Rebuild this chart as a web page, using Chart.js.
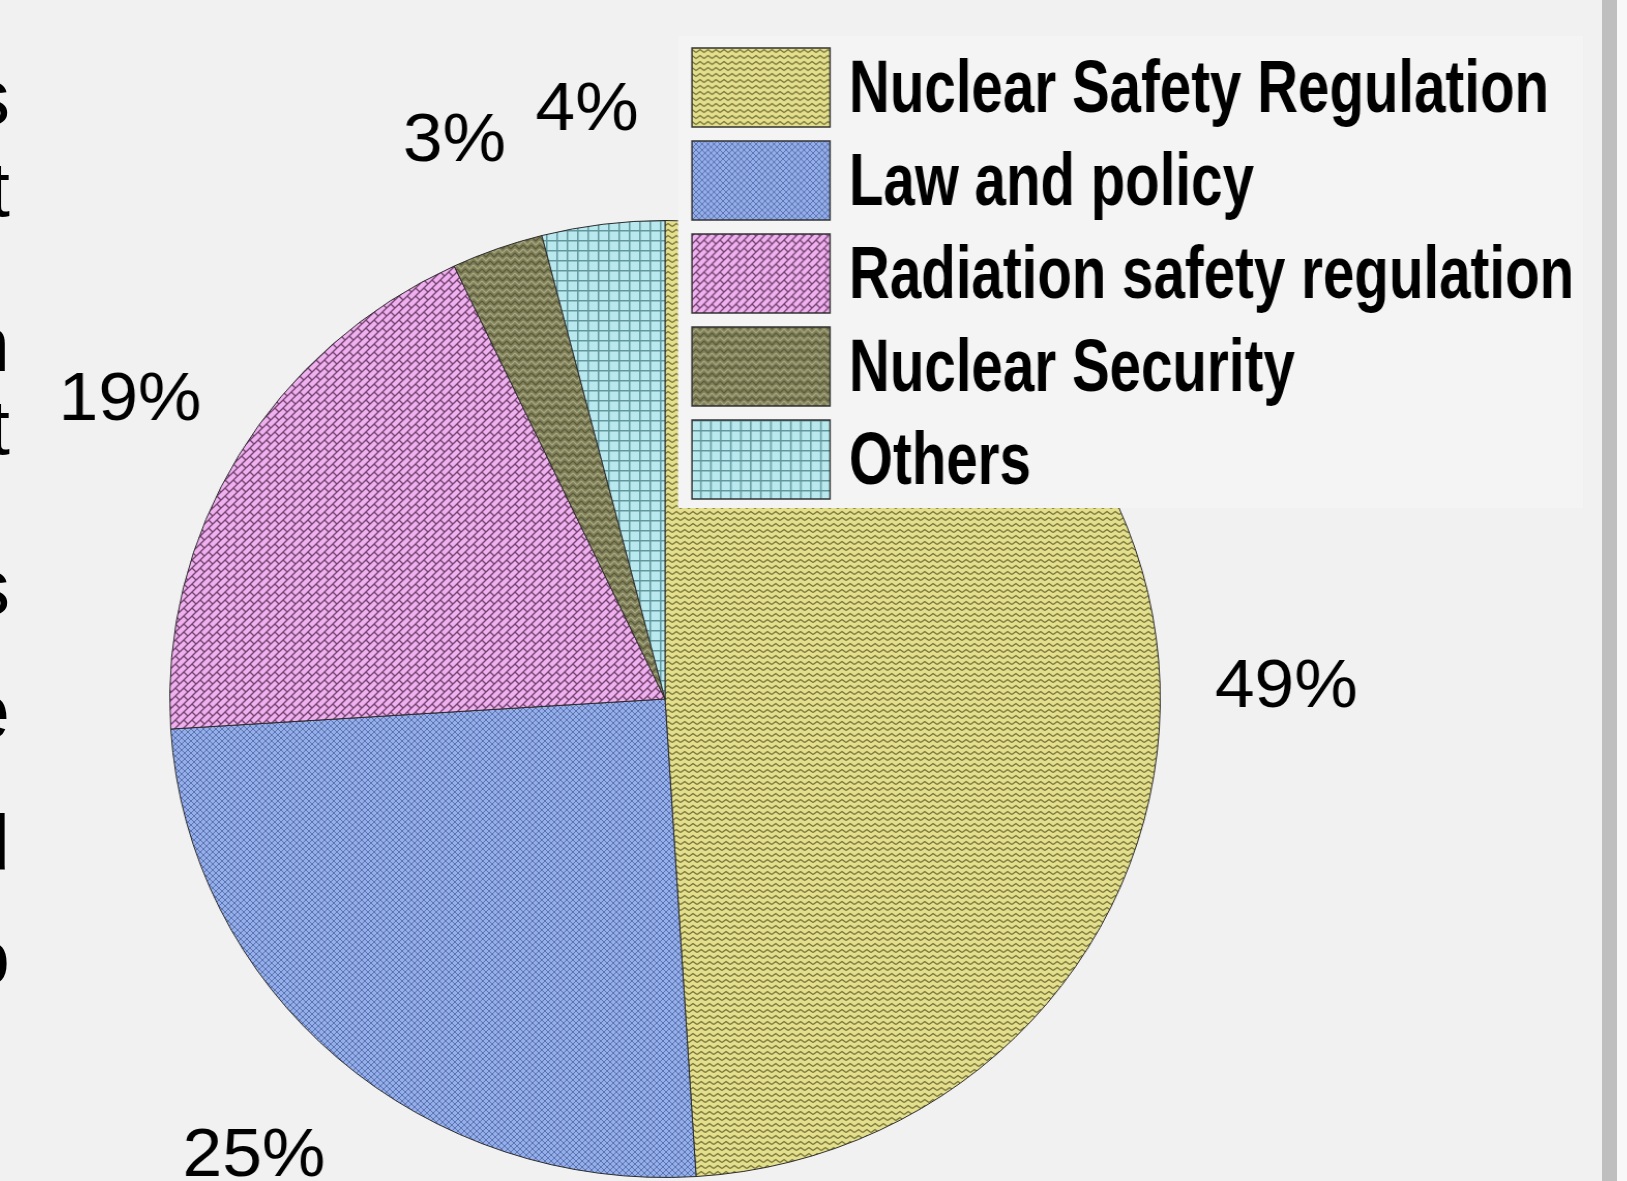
<!DOCTYPE html>
<html>
<head>
<meta charset="utf-8">
<script src="https://cdn.jsdelivr.net/npm/chart.js@4.4.0/dist/chart.umd.min.js"></script>
<style>
  html, body { margin: 0; padding: 0; width: 1627px; height: 1181px; overflow: hidden; background: #f1f1f1; }
  /* the source picture is a little wider than tall, so the pie is stretched */
  .wrap { position: absolute; left: 0; top: 0; width: 1627px; height: 1200px; transform: scaleX(1.035); transform-origin: 665px 0; }
  .edge { position: absolute; font-family: 'Liberation Sans', Arial, sans-serif; font-size: 78px; color: #000; line-height: 1; text-align: right; width: 120px; left: -110px; }
  .bar { position: absolute; left: 1602px; top: 0; width: 15px; height: 1181px; background: #bfbfbf; }
  .rim { position: absolute; left: 1617px; top: 0; width: 10px; height: 1181px; background: #f8f8f8; }
</style>
</head>
<body>
<div class="wrap"><canvas id="pie"></canvas></div>
<div id="edgeText"></div>
<div class="bar"></div>
<div class="rim"></div>
<script>
// Data
const categories = ['Nuclear Safety Regulation', 'Law and policy', 'Radiation safety regulation', 'Nuclear Security', 'Others'];
const shares = [49, 25, 19, 3, 4];
const labelText = ['49%', '25%', '19%', '3%', '4%'];

// cropped slide text on the left edge
const edgeChars = ['s', 't', 'n', 't', 's', 'e', 'd', 'o'];
const edgeTops = [58, 150, 305, 388, 548, 672, 804, 918];
const edgeBox = document.getElementById('edgeText');
edgeChars.forEach((ch, i) => {
    const d = document.createElement('div');
    d.className = 'edge';
    d.style.top = edgeTops[i] + 'px';
    d.textContent = ch;
    edgeBox.appendChild(d);
});

const STRETCH = 1.035;
const canvas = document.getElementById('pie');
const ctx = canvas.getContext('2d');

// hatch patterns, one per slice
function makePattern(w, h, bg, draw) {
    const t = document.createElement('canvas');
    t.width = w; t.height = h;
    const c = t.getContext('2d');
    c.fillStyle = bg;
    c.fillRect(0, 0, w, h);
    draw(c);
    return ctx.createPattern(t, 'repeat');
}
function seg(c, pts) {
    c.beginPath();
    c.moveTo(pts[0][0], pts[0][1]);
    for (let i = 1; i < pts.length; i++) c.lineTo(pts[i][0], pts[i][1]);
    c.stroke();
}

const patterns = [
    makePattern(8, 6, '#e3df8c', c => {
        c.strokeStyle = '#76733a'; c.lineWidth = 1.4;
        seg(c, [[0, 4.5], [4, 1.5], [8, 4.5]]);
    }),
    makePattern(6, 6, '#94afea', c => {
        c.strokeStyle = 'rgba(45,65,130,0.55)'; c.lineWidth = 1;
        seg(c, [[0, 0], [6, 6]]);
        seg(c, [[6, 0], [0, 6]]);
    }),
    makePattern(8, 8, '#efb0ef', c => {
        c.strokeStyle = '#74446f'; c.lineWidth = 1.3;
        seg(c, [[-1, 9], [9, -1]]);
        seg(c, [[-1, 1], [1, -1]]);
        seg(c, [[7, 9], [9, 7]]);
        seg(c, [[0, 0], [4, 4]]);
    }),
    makePattern(8, 8, '#80805a', c => {
        c.strokeStyle = '#a9a982'; c.lineWidth = 1.2;
        seg(c, [[0, 1], [4, 5], [8, 1]]);
        c.strokeStyle = '#5a5a3c';
        seg(c, [[0, 5], [4, 9], [8, 5]]);
        seg(c, [[0, -3], [4, 1], [8, -3]]);
    }),
    makePattern(10, 10, '#b9e9ef', c => {
        c.strokeStyle = '#62979d'; c.lineWidth = 1.5;
        seg(c, [[0.75, 0], [0.75, 10]]);
        seg(c, [[0, 0.75], [10, 0.75]]);
    })
];

// percent labels outside each slice
const outsideLabels = {
    id: 'outsideLabels',
    afterDatasetsDraw(chart) {
        const c = chart.ctx;
        const arcs = chart.getDatasetMeta(0).data;
        c.save();
        c.font = '69px "Liberation Sans", Arial, sans-serif';
        c.fillStyle = '#000';
        c.textAlign = 'center';
        c.textBaseline = 'alphabetic';
        arcs.forEach((arc, i) => {
            const mid = (arc.startAngle + arc.endAngle) / 2;
            const r = arc.outerRadius + 122;
            c.fillText(labelText[i], arc.x + Math.cos(mid) * r, arc.y + Math.sin(mid) * r + 27);
        });
        c.restore();
    }
};

// legend box drawn over the top right of the pie (in page pixels)
const boxLegend = {
    id: 'boxLegend',
    afterDraw(chart) {
        const c = chart.ctx;
        c.save();
        c.translate(665, 0);
        c.scale(1 / STRETCH, 1);
        c.translate(-665, 0);
        c.fillStyle = '#f4f4f4';
        c.fillRect(678, 36, 905, 472);
        c.font = 'bold 74px "Liberation Sans", Arial, sans-serif';
        c.textBaseline = 'alphabetic';
        const sx = 700 / c.measureText(categories[0]).width;
        categories.forEach((name, i) => {
            const y = 48 + i * 93;
            c.fillStyle = patterns[i];
            c.fillRect(692, y, 138, 79);
            c.strokeStyle = '#333';
            c.lineWidth = 1.5;
            c.strokeRect(692, y, 138, 79);
            c.save();
            c.translate(849, y + 64);
            c.scale(sx, 1);
            c.fillStyle = '#000';
            c.fillText(name, 0, 0);
            c.restore();
        });
        c.restore();
    }
};

new Chart(canvas, {
    type: 'pie',
    data: {
        labels: categories,
        datasets: [{
            data: shares,
            backgroundColor: patterns,
            borderColor: '#2b2b2b',
            borderWidth: 1
        }]
    },
    options: {
        responsive: true,
        maintainAspectRatio: false,
        animation: false,
        layout: { padding: { left: 186, top: 220, right: 483, bottom: 22 } },
        plugins: {
            legend: { display: false },
            tooltip: { enabled: false }
        }
    },
    plugins: [outsideLabels, boxLegend]
});
</script>
</body>
</html>
